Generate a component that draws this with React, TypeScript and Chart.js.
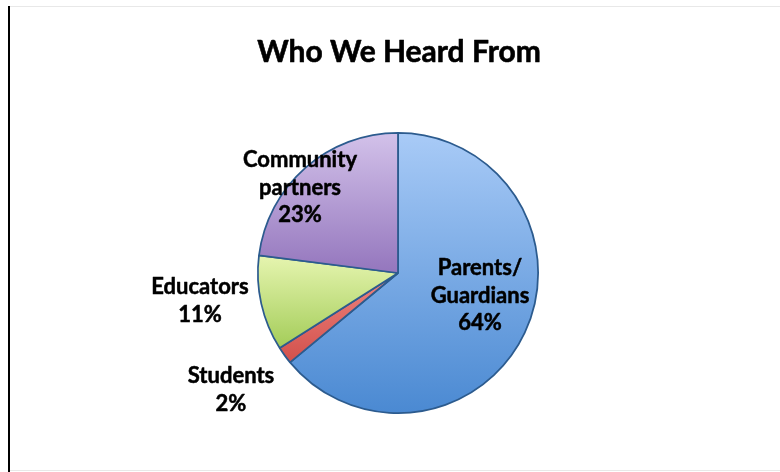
import React, { useEffect, useRef } from "react";
import { Chart, registerables } from "chart.js";

Chart.register(...registerables);

const categories = ["Parents/Guardians", "Students", "Educators", "Community partners"];
const values = [64, 2, 11, 23];
const labelLines = [["Parents/", "Guardians", "64%"], ["Students", "2%"], ["Educators", "11%"], ["Community", "partners", "23%"]];
const title = "Who We Heard From";

const topColors = ["#a9cbf7", "#ee8580", "#e6f5b0", "#d3c2ea"];
const bottomColors = ["#4a89d2", "#d2504b", "#a3cc58", "#9476bd"];
// label centre positions (x, y of first line middle)
const labelPos: [number, number][] = [[480, 268], [231, 376], [200, 287], [300, 160]];

const FONT = "Lato, 'Open Sans', sans-serif";

function sectorBBox(cx: number, cy: number, r: number, a0: number, a1: number) {
  const ys = [cy, cy + r * Math.sin(a0), cy + r * Math.sin(a1)];
  const norm = (a: number) => {
    let x = a;
    while (x < a0) x += Math.PI * 2;
    return x;
  };
  for (const a of [Math.PI / 2, -Math.PI / 2]) {
    if (norm(a) <= a1) ys.push(cy + r * Math.sin(a));
  }
  return [Math.min(...ys), Math.max(...ys)];
}

export default function App() {
  const ref = useRef<HTMLCanvasElement>(null);
  useEffect(() => {
    if (!ref.current) return;
    const total = values.reduce((a, b) => a + b, 0);
    const decor = {
      id: "decor",
      beforeDraw(chart: any) {
        const c = chart.ctx;
        c.save();
        c.fillStyle = "#ffffff";
        c.fillRect(0, 0, chart.width, chart.height);
        c.strokeStyle = "#e8e8e8";
        c.lineWidth = 1;
        c.beginPath();
        c.moveTo(8, 6.5);
        c.lineTo(780, 6.5);
        c.moveTo(8, 470.5);
        c.lineTo(780, 470.5);
        c.stroke();
        c.fillStyle = "#000000";
        c.fillRect(8, 6, 2, 466);
        c.restore();
      },
      afterDraw(chart: any) {
        const c = chart.ctx;
        c.save();
        c.fillStyle = "#000000";
        c.strokeStyle = "#000000";
        c.lineJoin = "round";
        c.textAlign = "center";
        c.textBaseline = "middle";
        c.font = `bold 30px ${FONT}`;
        c.lineWidth = 0.6;
        c.fillText(title, 399, 52);
        c.strokeText(title, 399, 52);
        c.font = `bold 22px ${FONT}`;
        c.lineWidth = 0.5;
        labelLines.forEach((lines, i) => {
          const [x, y] = labelPos[i];
          lines.forEach((t, j) => {
            c.fillText(t, x, y + j * 27.5);
            c.strokeText(t, x, y + j * 27.5);
          });
        });
        c.restore();
      },
    };
    const chart = new Chart(ref.current, {
      type: "pie",
      data: {
        labels: categories,
        datasets: [
          {
            data: values,
            borderColor: "#2c5b8e",
            borderWidth: 1.75,
            backgroundColor: (ctx: any) => {
              const ch = ctx.chart;
              const area = ch.chartArea;
              const i = ctx.dataIndex;
              if (!area || i === undefined) return topColors[0];
              const cx = (area.left + area.right) / 2;
              const cy = (area.top + area.bottom) / 2;
              const r = Math.min(area.right - area.left, area.bottom - area.top) / 2;
              let cum = 0;
              for (let k = 0; k < i; k++) cum += values[k];
              const a0 = -Math.PI / 2 + (cum / total) * Math.PI * 2;
              const a1 = -Math.PI / 2 + ((cum + values[i]) / total) * Math.PI * 2;
              const [y0, y1] = sectorBBox(cx, cy, r, a0, a1);
              const g = ch.ctx.createLinearGradient(0, y0, 0, y1);
              g.addColorStop(0, topColors[i]);
              g.addColorStop(1, bottomColors[i]);
              return g;
            },
          },
        ],
      },
      options: {
        responsive: false,
        animation: false,
        layout: { padding: { left: 257, right: 241, top: 132, bottom: 58 } },
        plugins: { legend: { display: false }, tooltip: { enabled: false }, title: { display: false } },
      },
      plugins: [decor],
    });
    return () => chart.destroy();
  }, []);
  return (
    <div style={{ position: "fixed", left: 0, top: 0, width: 780, height: 472 }}>
      <canvas ref={ref} width={780} height={472} style={{ display: "block" }} />
    </div>
  );
}
